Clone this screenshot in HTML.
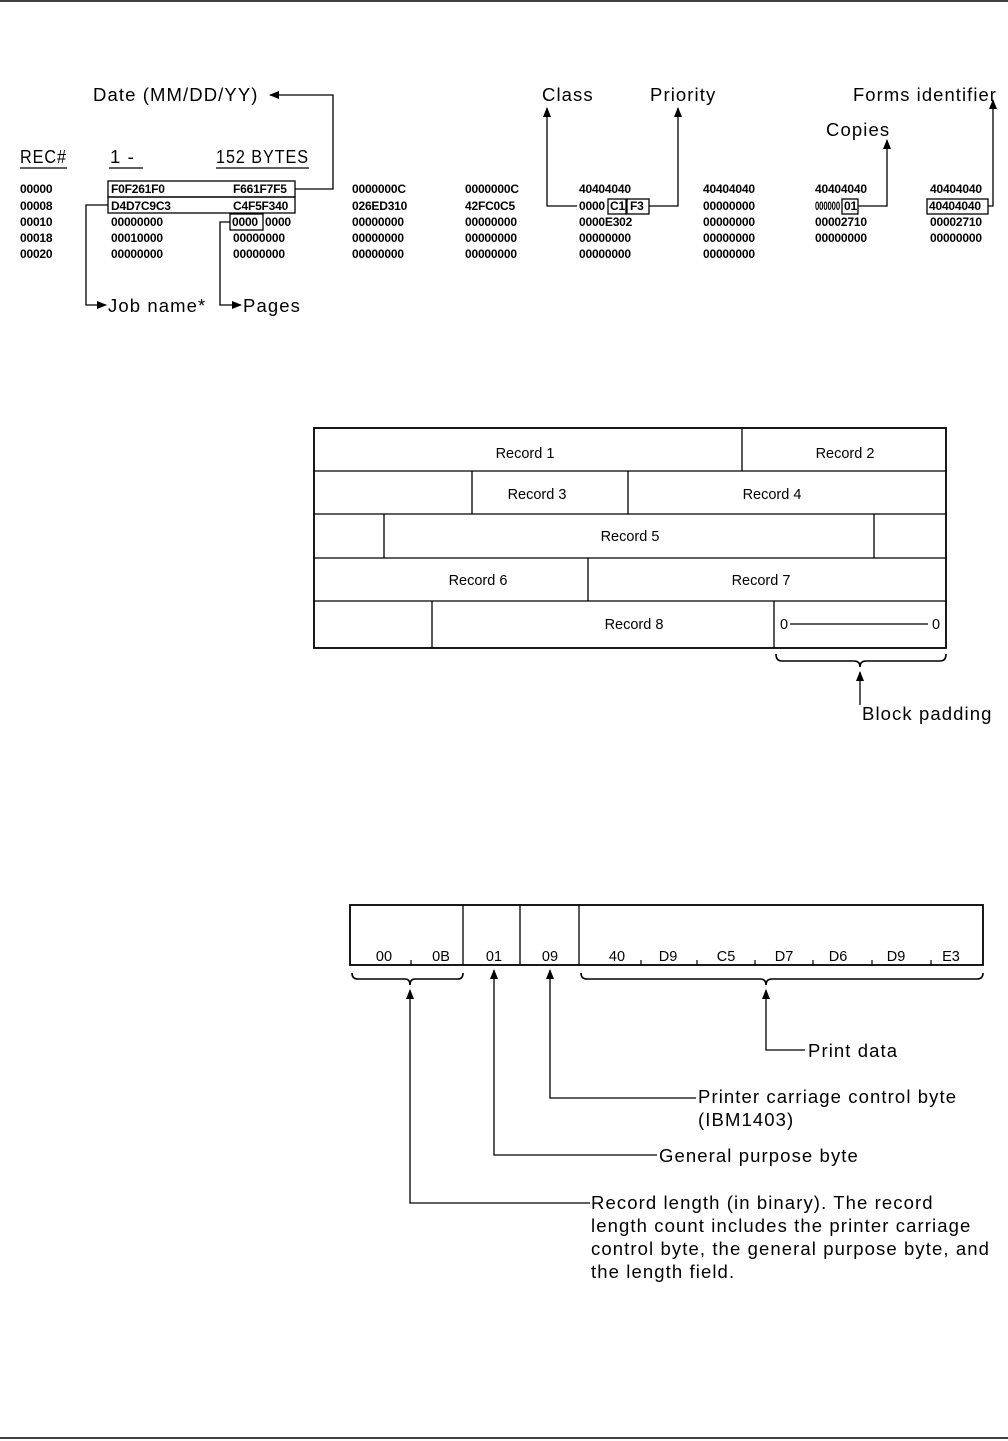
<!DOCTYPE html>
<html><head><meta charset="utf-8"><style>
html,body{margin:0;padding:0;background:#fff}
svg{display:block}
.h{font-family:"Liberation Sans",sans-serif;font-size:12px;font-weight:bold;letter-spacing:-0.2px}
.l{font-family:"Liberation Sans",sans-serif;font-size:18.5px;letter-spacing:1.1px}
.r{font-family:"Liberation Sans",sans-serif;font-size:14.5px}
</style></head><body>
<svg width="1008" height="1441" viewBox="0 0 1008 1441" xmlns="http://www.w3.org/2000/svg">
<defs><marker id="a" markerWidth="10" markerHeight="10" refX="9" refY="4" orient="auto" markerUnits="userSpaceOnUse"><path d="M0,0 L10,4 L0,8 z" fill="#000"/></marker></defs>
<line x1="0" y1="1" x2="1008" y2="1" stroke="#000" stroke-width="1.5"/>
<line x1="0" y1="1438" x2="1008" y2="1438" stroke="#000" stroke-width="1.5"/>
<g fill="none" stroke="#000" stroke-width="1.3">
<rect x="108" y="181" width="187" height="16"/><rect x="108" y="197" width="187" height="16"/>
<rect x="230" y="214" width="33" height="16"/>
<rect x="608" y="199" width="18" height="15"/><rect x="627" y="199" width="22" height="15"/>
<rect x="842" y="199" width="16" height="15"/><rect x="927" y="199" width="61" height="15"/>
<polyline points="295,189 333,189 333,95 270,95" marker-end="url(#a)"/>
<polyline points="108,205 86,205 86,305 106,305" marker-end="url(#a)"/>
<polyline points="230,222 220,222 220,305 241,305" marker-end="url(#a)"/>
<polyline points="577,206 547,206 547,108" marker-end="url(#a)"/>
<polyline points="649,206 678,206 678,108" marker-end="url(#a)"/>
<polyline points="858,206 887,206 887,140" marker-end="url(#a)"/>
<polyline points="988,206 993,206 993,100" marker-end="url(#a)"/>
<line x1="20" y1="168" x2="67" y2="168"/><line x1="109" y1="168" x2="143" y2="168"/><line x1="216" y1="168" x2="309" y2="168"/>
<rect x="314" y="428" width="632" height="220" stroke-width="1.8"/>
<line x1="314" y1="471" x2="946" y2="471"/><line x1="314" y1="514" x2="946" y2="514"/>
<line x1="314" y1="558" x2="946" y2="558"/><line x1="314" y1="601" x2="946" y2="601"/>
<line x1="742" y1="428" x2="742" y2="471"/>
<line x1="472" y1="471" x2="472" y2="514"/><line x1="628" y1="471" x2="628" y2="514"/>
<line x1="384" y1="514" x2="384" y2="558"/><line x1="874" y1="514" x2="874" y2="558"/>
<line x1="588" y1="558" x2="588" y2="601"/>
<line x1="432" y1="601" x2="432" y2="648"/><line x1="774" y1="601" x2="774" y2="648"/>
<line x1="790" y1="624" x2="928" y2="624"/>
<path d="M776,654 Q776,661 782,661 L854,661 Q860,661 860,667 Q860,661 866,661 L940,661 Q946,661 946,654" stroke-width="1.6"/>
<line x1="860" y1="705" x2="860" y2="672" marker-end="url(#a)"/>
<rect x="350" y="905" width="633" height="60" stroke-width="1.8"/>
<line x1="463" y1="905" x2="463" y2="965"/><line x1="520" y1="905" x2="520" y2="965"/><line x1="579" y1="905" x2="579" y2="965"/>
<g stroke-width="1.2"><line x1="411" y1="960" x2="411" y2="965"/><line x1="641" y1="960" x2="641" y2="965"/><line x1="697" y1="960" x2="697" y2="965"/><line x1="755" y1="960" x2="755" y2="965"/><line x1="813" y1="960" x2="813" y2="965"/><line x1="872" y1="960" x2="872" y2="965"/><line x1="931" y1="960" x2="931" y2="965"/></g>
<path d="M352,973 Q352,979 358,979 L405,979 Q410,979 410,985 Q410,979 415,979 L458,979 Q463,979 463,973" stroke-width="1.6"/>
<path d="M581,973 Q581,979 587,979 L760,979 Q766,979 766,985 Q766,979 772,979 L977,979 Q983,979 983,973" stroke-width="1.6"/>
<polyline points="805,1050 766,1050 766,990" marker-end="url(#a)"/>
<polyline points="696,1098 550,1098 550,970" marker-end="url(#a)"/>
<polyline points="657,1155 494,1155 494,970" marker-end="url(#a)"/>
<polyline points="590,1203 410,1203 410,990" marker-end="url(#a)"/>
</g>
<g class="l">
<text x="93" y="101">Date (MM/DD/YY)</text>
<text x="20" y="163" textLength="47" lengthAdjust="spacingAndGlyphs">REC#</text><text x="110" y="163">1 -</text><text x="216" y="163" textLength="93" lengthAdjust="spacingAndGlyphs">152 BYTES</text>
<text x="108" y="312">Job name*</text><text x="243" y="312">Pages</text>
<text x="542" y="101">Class</text><text x="650" y="101">Priority</text>
<text x="826" y="136">Copies</text><text x="853" y="101" textLength="144" lengthAdjust="spacingAndGlyphs">Forms identifier</text>
<text x="862" y="720">Block padding</text>
<text x="808" y="1057">Print data</text>
<text x="698" y="1103">Printer carriage control byte</text><text x="698" y="1126">(IBM1403)</text>
<text x="659" y="1162">General purpose byte</text>
<text x="591" y="1209">Record length (in binary). The record</text>
<text x="591" y="1232">length count includes the printer carriage</text>
<text x="591" y="1255">control byte, the general purpose byte, and</text>
<text x="591" y="1278">the length field.</text>
</g>
<g class="h">
<text x="20" y="193">00000</text><text x="20" y="210">00008</text><text x="20" y="226">00010</text><text x="20" y="242">00018</text><text x="20" y="258">00020</text>
<text x="111" y="193">F0F261F0</text><text x="111" y="210">D4D7C9C3</text><text x="111" y="226">00000000</text><text x="111" y="242">00010000</text><text x="111" y="258">00000000</text>
<text x="233" y="193">F661F7F5</text><text x="233" y="210">C4F5F340</text><text x="232" y="226">0000</text><text x="265" y="226">0000</text><text x="233" y="242">00000000</text><text x="233" y="258">00000000</text>
<text x="352" y="193">0000000C</text><text x="352" y="210">026ED310</text><text x="352" y="226">00000000</text><text x="352" y="242">00000000</text><text x="352" y="258">00000000</text>
<text x="465" y="193">0000000C</text><text x="465" y="210">42FC0C5</text><text x="465" y="226">00000000</text><text x="465" y="242">00000000</text><text x="465" y="258">00000000</text>
<text x="579" y="193">40404040</text><text x="579" y="210">0000</text><text x="610" y="210">C1</text><text x="630" y="210">F3</text><text x="579" y="226">0000E302</text><text x="579" y="242">00000000</text><text x="579" y="258">00000000</text>
<text x="703" y="193">40404040</text><text x="703" y="210">00000000</text><text x="703" y="226">00000000</text><text x="703" y="242">00000000</text><text x="703" y="258">00000000</text>
<text x="815" y="193">40404040</text><text x="815" y="210" textLength="25" lengthAdjust="spacingAndGlyphs">000000</text><text x="844" y="210">01</text><text x="815" y="226">00002710</text><text x="815" y="242">00000000</text>
<text x="930" y="193">40404040</text><text x="929" y="210">40404040</text><text x="930" y="226">00002710</text><text x="930" y="242">00000000</text>
</g>
<g class="r" text-anchor="middle">
<text x="525" y="458">Record 1</text><text x="845" y="458">Record 2</text>
<text x="537" y="499">Record 3</text><text x="772" y="499">Record 4</text>
<text x="630" y="541">Record 5</text>
<text x="478" y="585">Record 6</text><text x="761" y="585">Record 7</text>
<text x="634" y="629">Record 8</text>
<text x="784" y="629">0</text><text x="936" y="629">0</text>
<text x="384" y="961">00</text><text x="441" y="961">0B</text><text x="494" y="961">01</text><text x="550" y="961">09</text>
<text x="617" y="961">40</text><text x="668" y="961">D9</text><text x="726" y="961">C5</text><text x="784" y="961">D7</text><text x="838" y="961">D6</text><text x="896" y="961">D9</text><text x="951" y="961">E3</text>
</g>
</svg>
</body></html>
